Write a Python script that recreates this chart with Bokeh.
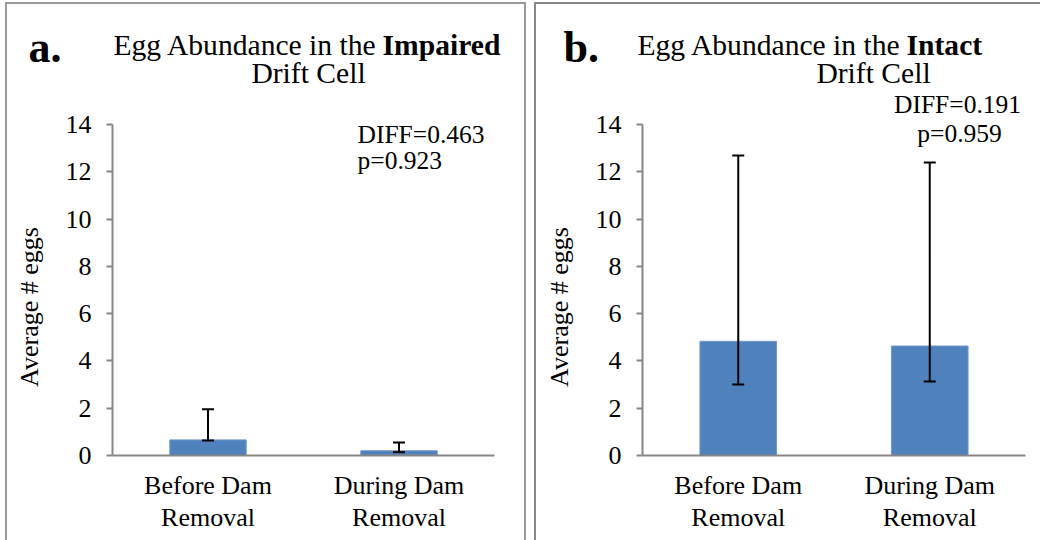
from bokeh.plotting import figure
from bokeh.layouts import row
from bokeh.models import (ColumnDataSource, Whisker, TeeHead, FixedTicker, Range1d, Label)
from bokeh.embed import file_html
from bokeh.resources import INLINE

# ---- data ----
categories = ["Before Dam\nRemoval", "During Dam\nRemoval"]
impaired_mean = [0.66, 0.20]
impaired_low = [0.63, 0.14]
impaired_high = [1.96, 0.55]
intact_mean = [4.83, 4.63]
intact_low = [3.00, 3.13]
intact_high = [12.69, 12.39]
y_ticks = [0, 2, 4, 6, 8, 10, 12, 14]
y_label = "Average # eggs"

SERIF = "Liberation Serif"
AXIS_GRAY = "#868686"
BAR = "#4F81BD"
PXU = 331 / 14.0  # pixels per y unit
FIG_TOP, FIG_BOTTOM = 2, 540
BASE_FIX = 0.33  # em offset Bokeh applies below an alphabetic baseline


def yv(Y):
    return (455 - Y) / PXU


def make_panel(X0, X1, axis_x, cat_px, means, lows, highs, shadow):
    xm = lambda X: (X - axis_x) / cat_px
    p = figure(width=X1 - X0, height=FIG_BOTTOM - FIG_TOP, output_backend="svg", toolbar_location=None,
               x_range=Range1d(xm(X0), xm(X1)), y_range=Range1d(yv(FIG_BOTTOM), yv(FIG_TOP)),
               min_border=0, min_border_left=0, min_border_right=0,
               min_border_top=0, min_border_bottom=0,
               border_fill_color=None, background_fill_color=None,
               outline_line_color=None,
               styles={"box-shadow": shadow})
    xs = [0.5 + i for i in range(len(categories))]
    src = ColumnDataSource(dict(x=xs, v=means, lo=lows, hi=highs))
    p.vbar(x="x", top="v", width=0.4, source=src, fill_color=BAR, line_color="#6f97c9", line_width=1)
    p.add_layout(Whisker(source=src, base="x", upper="hi", lower="lo", dimension="height",
                         level="overlay", line_color="black", line_width=2,
                         upper_head=TeeHead(size=12, line_width=2, line_color="black"),
                         lower_head=TeeHead(size=12, line_width=2, line_color="black")))
    p.xgrid.visible = False
    p.ygrid.visible = False
    ya = p.yaxis[0]
    ya.fixed_location = 0
    ya.bounds = (y_ticks[0], y_ticks[-1])
    ya.ticker = FixedTicker(ticks=y_ticks)
    ya.minor_tick_line_color = None
    ya.axis_line_color = AXIS_GRAY
    ya.axis_line_width = 2
    ya.major_tick_line_color = AXIS_GRAY
    ya.major_tick_line_width = 2
    ya.major_tick_out = 6
    ya.major_tick_in = 0
    ya.major_label_standoff = 15
    ya.major_label_text_font = SERIF
    ya.major_label_text_font_size = "26px"
    ya.major_label_text_color = "black"
    xa = p.xaxis[0]
    xa.fixed_location = 0
    xa.bounds = (0, len(categories))
    xa.ticker = FixedTicker(ticks=xs)
    xa.major_label_overrides = {x: c for x, c in zip(xs, categories)}
    xa.minor_tick_line_color = None
    xa.major_tick_line_color = None
    xa.major_tick_out = 0
    xa.major_tick_in = 0
    xa.axis_line_color = AXIS_GRAY
    xa.axis_line_width = 2
    xa.major_label_standoff = 15
    xa.major_label_text_font = SERIF
    xa.major_label_text_font_size = "26px"
    xa.major_label_text_line_height = 1.12
    xa.major_label_text_color = "black"
    return p, xm


def lab(p, xm, X, Y, text, size, bold=False, align="left", rotated=False):
    fix = BASE_FIX * size
    if rotated:
        x, y, angle = xm(X - fix), yv(Y), 1.5707963
    else:
        x, y, angle = xm(X), yv(Y - fix), 0
    p.add_layout(Label(x=x, y=y, text=text, text_font=SERIF, text_font_size=f"{size}px",
                       text_font_style="bold" if bold else "normal", text_color="black",
                       text_align=align, text_baseline="alphabetic", angle=angle))


# ---- panel a (Impaired) ----
pa, xa_ = make_panel(5, 526, 112, 191.0, impaired_mean, impaired_low, impaired_high,
                     "inset 2px 2px 0 #9a9a9a, inset -2px 0 0 #9a9a9a")
lab(pa, xa_, 28, 62, "a.", 44, bold=True)
lab(pa, xa_, 113, 54, "Egg Abundance in the ", 29.6)
lab(pa, xa_, 382, 54, "Impaired", 29.6, bold=True)
lab(pa, xa_, 308, 82, "Drift Cell", 29.6, align="center")
lab(pa, xa_, 357, 142, "DIFF=0.463", 25.5)
lab(pa, xa_, 357, 168, "p=0.923", 25.5)
lab(pa, xa_, 38, 306.5, y_label, 26, align="center", rotated=True)

# ---- panel b (Intact) ----
pb, xb_ = make_panel(534, 1040, 642, 191.5, intact_mean, intact_low, intact_high,
                     "inset 2px 2px 0 #888888")
lab(pb, xb_, 563, 62, "b.", 44, bold=True)
lab(pb, xb_, 637, 54, "Egg Abundance in the ", 29.6)
lab(pb, xb_, 906, 54, "Intact", 29.6, bold=True)
lab(pb, xb_, 873, 82, "Drift Cell", 29.6, align="center")
lab(pb, xb_, 957, 112, "DIFF=0.191", 25.5, align="center")
lab(pb, xb_, 959, 141, "p=0.959", 25.5, align="center")
lab(pb, xb_, 568, 306.5, y_label, 26, align="center", rotated=True)

layout = row(pa, pb, spacing=8, margin=(FIG_TOP, 0, 0, 5))

open("out.html", "w").write(file_html(layout, INLINE))
